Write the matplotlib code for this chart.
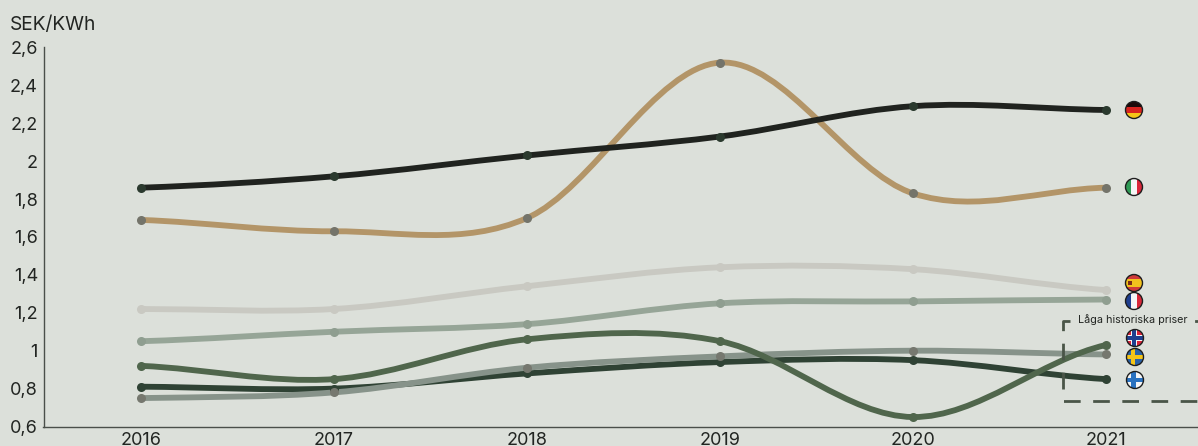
import numpy as np
import matplotlib
matplotlib.use('Agg')
from matplotlib import pyplot as plt
from matplotlib.path import Path
from matplotlib.patches import PathPatch, Circle, Rectangle

years = [2016, 2017, 2018, 2019, 2020, 2021]
yticks = [0.6, 0.8, 1.0, 1.2, 1.4, 1.6, 1.8, 2.0, 2.2, 2.4, 2.6]
ylabels = ['0,6', '0,8', '1', '1,2', '1,4', '1,6', '1,8', '2', '2,2', '2,4', '2,6']

tyskland = [1.86, 1.92, 2.03, 2.13, 2.29, 2.27]
italien = [1.69, 1.63, 1.70, 2.52, 1.83, 1.86]
spanien = [1.22, 1.22, 1.34, 1.44, 1.43, 1.32]
frankrike = [1.05, 1.10, 1.14, 1.25, 1.26, 1.27]
sverige = [0.75, 0.78, 0.91, 0.97, 1.00, 0.98]
finland = [0.81, 0.80, 0.88, 0.94, 0.95, 0.85]
norge = [0.92, 0.85, 1.06, 1.05, 0.65, 1.03]

BG = '#dce0da'
TXT = '#222522'

plt.rcParams['font.family'] = ['Inter', 'DejaVu Sans']

fig = plt.figure(figsize=(11.98, 4.46), dpi=100, facecolor=BG)
ax = fig.add_axes([43.5/1198, (446-426.5)/446, (1198-43.5)/1198, 380/446], facecolor=BG)
ax.set_xlim(2016-97.5/193, 2016+1057/193)
ax.set_ylim(0.6, 2.605)


def smooth_line(xs, ys, color, mcolor):
    # catmull-rom as bezier, same look as the original curves
    xs = np.array(xs, dtype=float)
    ys = np.array(ys, dtype=float)
    dy = np.gradient(ys, xs)
    dy[0] = (ys[1]-ys[0])*0.6
    dy[-1] = (ys[-1]-ys[-2])*0.6
    verts = [(xs[0], ys[0])]
    codes = [Path.MOVETO]
    for i in range(len(xs)-1):
        h = xs[i+1]-xs[i]
        verts += [(xs[i]+h/3, ys[i]+dy[i]*h/3),
                  (xs[i+1]-h/3, ys[i+1]-dy[i+1]*h/3),
                  (xs[i+1], ys[i+1])]
        codes += [Path.CURVE4]*3
    ax.add_patch(PathPatch(Path(verts, codes), fill=False, edgecolor=color, lw=4.2, capstyle='round'))
    ax.plot(xs, ys, 'o', color=mcolor, ms=6.5, mew=0, zorder=4)


smooth_line(years, spanien, '#c9c9c2', '#c9c9c2')
smooth_line(years, frankrike, '#96a597', '#8f9e90')
smooth_line(years, italien, '#b39568', '#74746a')
smooth_line(years, tyskland, '#20231f', '#2b3a2e')
smooth_line(years, finland, '#2f4234', '#2f4234')
smooth_line(years, sverige, '#87938a', '#76786f')
smooth_line(years, norge, '#50664c', '#50664c')

for s in ['top', 'right']:
    ax.spines[s].set_visible(False)
for s in ['left', 'bottom']:
    ax.spines[s].set_color('#4a4f4a')
    ax.spines[s].set_linewidth(1)
ax.set_xticks(years)
ax.set_xticklabels(years)
ax.set_yticks(yticks)
ax.set_yticklabels(ylabels)
ax.tick_params(length=0, labelsize=13, colors=TXT)
ax.tick_params(axis='x', pad=4)
ax.tick_params(axis='y', pad=4)

# overlay in pixels for the flags and the dashed box
ov = fig.add_axes([0, 0, 1, 1], facecolor='none')
ov.set_xlim(0, 1198)
ov.set_ylim(446, 0)
ov.axis('off')

ov.text(10, 25, 'SEK/KWh', fontsize=13.8, color=TXT, va='center', ha='left')
ov.text(1078, 320, 'Låga historiska priser', fontsize=7.8, color=TXT, va='center', ha='left')

box = '#4a5548'
ov.plot([1070, 1063, 1063, 1198], [321, 321, 401, 401], color=box, lw=2, dashes=(6, 4.5))
ov.plot([1196, 1198], [321, 321], color=box, lw=2)


def flag(cx, cy, parts):
    clip = Circle((cx, cy), 8.5, transform=ov.transData)
    for (x, y, w, h, c) in parts:
        r = Rectangle((cx+x, cy+y), w, h, color=c, lw=0, zorder=5)
        ov.add_patch(r)
        r.set_clip_path(clip)
    ov.add_patch(Circle((cx, cy), 8.5, fill=False, edgecolor='#1e1e1e', lw=1, zorder=6))


flag(1134, 110, [(-9, -9, 18, 6, '#1c0a0a'), (-9, -3, 18, 6, '#d8231f'), (-9, 3, 18, 6, '#f5c518')])
flag(1134, 187, [(-9, -9, 6, 18, '#2f9a55'), (-3, -9, 6, 18, '#f6f6f6'), (3, -9, 6, 18, '#d9283a')])
flag(1134, 283, [(-9, -9, 18, 5, '#cf3a3a'), (-9, -4, 18, 8, '#f2c21d'), (-9, 4, 18, 5, '#cf3a3a'), (-6, -2, 4, 4, '#7a2a1a')])
flag(1134, 301, [(-9, -9, 6, 18, '#1f3f8f'), (-3, -9, 6, 18, '#f6f6f6'), (3, -9, 6, 18, '#d9283a')])
flag(1135, 338, [(-9, -9, 18, 18, '#d9233a'), (-4, -9, 6, 18, '#f6f6f6'), (-9, -3, 18, 6, '#f6f6f6'),
                 (-3, -9, 3.5, 18, '#1f3f8f'), (-9, -2, 18, 3.5, '#1f3f8f')])
flag(1135, 357, [(-9, -9, 18, 18, '#2a62a8'), (-4, -9, 4, 18, '#f5c518'), (-9, -2, 18, 4, '#f5c518')])
flag(1135, 380, [(-9, -9, 18, 18, '#f6f6f6'), (-4, -9, 4.5, 18, '#2a72c0'), (-9, -2.2, 18, 4.5, '#2a72c0')])

fig.savefig('out.png', dpi=100, facecolor=BG)
